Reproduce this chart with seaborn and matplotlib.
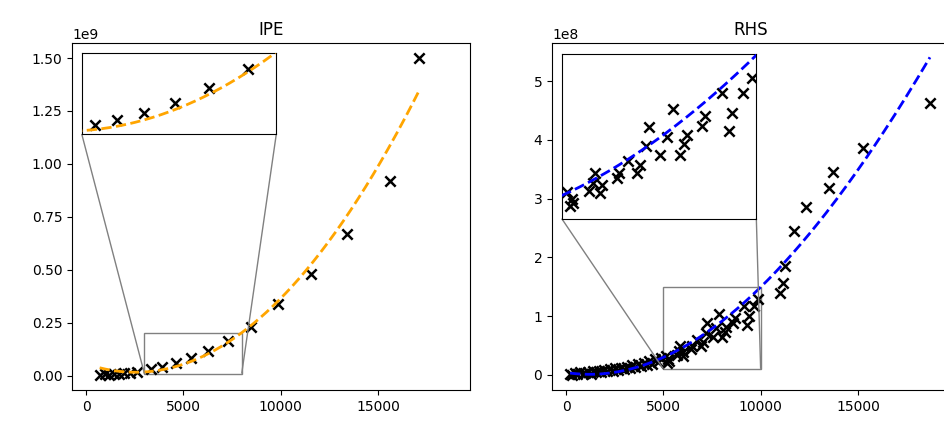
import numpy as np
import matplotlib
matplotlib.use("Agg")
import matplotlib.pyplot as plt
import seaborn as sns
from mpl_toolkits.axes_grid1.inset_locator import mark_inset

# ---- IPE measurements ----
ipe_x = [700, 950, 1200, 1450, 1700, 1950, 2250, 2600,
         3340, 3900, 4600, 5390, 6260, 7270,
         8460, 9880, 11550, 13430, 15620, 17110]
ipe_y = [0.004e9, 0.006e9, 0.005e9, 0.008e9, 0.010e9, 0.012e9, 0.015e9, 0.019e9,
         0.030e9, 0.042e9, 0.059e9, 0.084e9, 0.118e9, 0.164e9,
         0.232e9, 0.337e9, 0.481e9, 0.668e9, 0.920e9, 1.501e9]
# quadratic fit: a*x^2 + b*x + c
ipe_fit = [6.258, -31770.0, 5.663e7]
ipe_yticks = [0.0, 0.25e9, 0.5e9, 0.75e9, 1.0e9, 1.25e9, 1.5e9]

# ---- RHS measurements ----
rhs_x = [210, 330, 460, 580, 720, 850, 990, 1120, 1260, 1390, 1530, 1680,
         1820, 1960, 2110, 2250, 2400, 2540, 2690, 2830, 2980, 3120, 3270,
         3410, 3560, 3700, 3850, 3990, 4140, 4280, 4430, 4570, 4720, 4860,
         5130, 5260, 5210, 5300, 5690, 5810, 5860, 5990, 6030, 6420, 6460,
         6710, 6930, 7020, 7170, 7230, 7530, 7700, 7860, 8040, 8150, 8220,
         8600, 8690, 9120, 9290, 9380, 9660, 9890,
         11000, 11170, 11250, 11720, 12330, 13530, 13700, 15280, 18700]
rhs_y = [0.02e8, 0.00e8, 0.03e8, 0.01e8, 0.04e8, 0.02e8, 0.03e8, 0.05e8,
         0.02e8, 0.06e8, 0.04e8, 0.07e8, 0.05e8, 0.08e8, 0.06e8, 0.09e8,
         0.07e8, 0.11e8, 0.08e8, 0.12e8, 0.10e8, 0.14e8, 0.11e8, 0.16e8,
         0.13e8, 0.18e8, 0.15e8, 0.20e8, 0.17e8, 0.23e8, 0.19e8, 0.26e8,
         0.22e8, 0.29e8,
         0.323e8, 0.267e8, 0.204e8, 0.233e8, 0.332e8, 0.403e8, 0.488e8,
         0.318e8, 0.388e8, 0.445e8, 0.488e8, 0.586e8, 0.488e8, 0.558e8,
         0.719e8, 0.878e8, 0.643e8, 0.793e8, 1.031e8, 0.643e8, 0.736e8,
         0.813e8, 0.889e8, 0.974e8, 1.167e8, 0.849e8, 1.002e8, 1.167e8,
         1.294e8,
         1.40e8, 1.57e8, 1.85e8, 2.45e8, 2.85e8, 3.18e8, 3.45e8, 3.86e8, 4.63e8]
# cubic fit: a*x^3 + b*x^2 + c*x + d
rhs_fit = [-1.79e-5, 2.1425, -5098.0, 3.767e6]
rhs_yticks = [0.0, 1e8, 2e8, 3e8, 4e8, 5e8]

xticks = [0, 5000, 10000, 15000]

panels = [
    dict(title="IPE", x=ipe_x, y=ipe_y, fit=ipe_fit, color="orange",
         yticks=ipe_yticks,
         ylim=(-0.0675e9, 1.571e9), zx=(3000, 8000), zy=(1e7, 2e8),
         inset=[0.0244, 0.738, 0.489, 0.232]),
    dict(title="RHS", x=rhs_x, y=rhs_y, fit=rhs_fit, color="blue",
         yticks=rhs_yticks,
         ylim=(-0.26e8, 5.65e8), zx=(5000, 10000), zy=(1e7, 1.5e8),
         inset=[0.0244, 0.494, 0.489, 0.474]),
]

fig = plt.figure(figsize=(9.44, 4.25), dpi=100)
positions = [[72 / 944, 35 / 425, 398 / 944, 347 / 425],
             [552 / 944, 35 / 425, 398 / 944, 347 / 425]]


def draw(ax, p):
    x = np.asarray(p["x"], dtype=float)
    y = np.asarray(p["y"], dtype=float)
    sns.scatterplot(x=x, y=y, marker="x", color="black", s=55,
                    linewidth=1.8, ax=ax, zorder=3)
    xs = np.linspace(x.min(), x.max(), 300)
    ax.plot(xs, np.polyval(p["fit"], xs), linestyle="--",
            color=p["color"], linewidth=2.0, zorder=4)


for pos, p in zip(positions, panels):
    ax = fig.add_axes(pos)
    draw(ax, p)
    ax.set_title(p["title"])
    ax.set_xticks(xticks)
    ax.set_yticks(p["yticks"])
    ax.set_xlim(-720, 19730)
    ax.set_ylim(*p["ylim"])

    axins = ax.inset_axes(p["inset"])
    draw(axins, p)
    axins.set_xlim(*p["zx"])
    axins.set_ylim(*p["zy"])
    axins.set_xticks([])
    axins.set_yticks([])
    mark_inset(ax, axins, loc1=3, loc2=4, fc="none", ec="0.5")

fig.savefig("out.png", dpi=100)
